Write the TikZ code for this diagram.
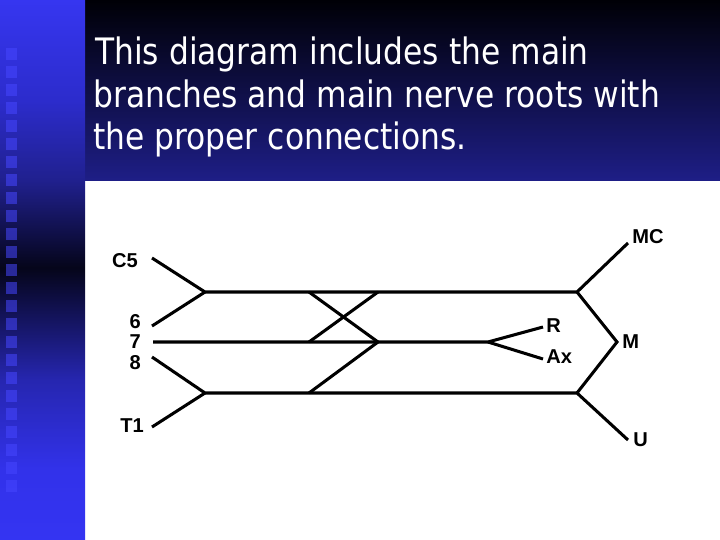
\documentclass[tikz,border=0pt]{standalone}
\usepackage{fontspec}
\usepackage{tikz}
\newfontfamily\titlefont[FakeStretch=0.86]{DejaVu Sans}
\newfontfamily\labelfont{Liberation Sans}
\definecolor{ttltop}{HTML}{000006}
\definecolor{ttlbottom}{HTML}{1E1E86}
\definecolor{barsquare}{HTML}{4646FF}
\pgfdeclareverticalshading{leftbar}{100bp}{color(0bp)=(rgb,255:red,52;green,52;blue,242);
  color(25bp)=(rgb,255:red,52;green,52;blue,242);
  color(31.5bp)=(rgb,255:red,50;green,50;blue,234);
  color(39.8bp)=(rgb,255:red,38;green,38;blue,176);
  color(50.2bp)=(rgb,255:red,5;green,5;blue,26);
  color(58.3bp)=(rgb,255:red,32;green,32;blue,142);
  color(65.7bp)=(rgb,255:red,44;green,44;blue,204);
  color(75bp)=(rgb,255:red,54;green,54;blue,240);
  color(100bp)=(rgb,255:red,54;green,54;blue,240)}
\tikzset{nerve/.style={line width=2.2pt, line join=miter},
  lbl/.style={inner sep=0pt, font=\labelfont\fontsize{14.5}{17}\selectfont\bfseries},
  ttl/.style={inner sep=0pt, anchor=base west, text=white,
    font=\titlefont\fontsize{26.3}{30}\selectfont}}

\begin{document}
\begin{tikzpicture}[x=0.01in,y=-0.01in]
  \useasboundingbox (0,0) rectangle (720,540);
  \fill [white] (0,0) rectangle (720,540);
  % slide background
  \shade [top color=ttltop, bottom color=ttlbottom] (85,0) rectangle (720,180);
  \shade [shading=leftbar] (0,0) rectangle (85,540);
  \foreach \k in {0,...,24}
    \fill [barsquare, opacity=0.55] (6,48+18*\k) rectangle (17,60+18*\k);

  \node [ttl] (title1) at (95,64) {This diagram includes the main};
  \node [ttl] (title2) at (93,107) {branches and main nerve roots with};
  \node [ttl] (title3) at (93,149) {the proper connections.};

  % labels
  \node [lbl, anchor=east] (c5) at (138,261) {C5};
  \node [lbl, anchor=east] (n6) at (141,322) {6};
  \node [lbl, anchor=east] (n7) at (141,341.5) {7};
  \node [lbl, anchor=east] (n8) at (141,362.5) {8};
  \node [lbl, anchor=east] (t1) at (144,426) {T1};
  \node [lbl, anchor=west] (r) at (546,326) {R};
  \node [lbl, anchor=west] (ax) at (546,357) {Ax};
  \node [lbl, anchor=west] (m) at (622,342) {M};
  \node [lbl, anchor=west] (mc) at (632,237) {MC};
  \node [lbl, anchor=west] (u) at (633,440) {U};

  % roots, trunks, cords
  \coordinate (c5e) at (152,258);
  \coordinate (r6e) at (152,326);
  \coordinate (r7e) at (153,342);
  \coordinate (r8e) at (152,357);
  \coordinate (t1e) at (152,427);
  \coordinate (up) at (205,292);
  \coordinate (lo) at (205,393);
  \coordinate (upx) at (309,292);
  \coordinate (upy) at (378,292);
  \coordinate (mdx) at (309,342);
  \coordinate (mdy) at (378,342);
  \coordinate (lox) at (309,393);
  \coordinate (lat) at (577,292);
  \coordinate (med) at (577,393);
  \coordinate (post) at (488,342);
  \coordinate (mce) at (628,243);
  \coordinate (me) at (617,342);
  \coordinate (ue) at (628,440);
  \coordinate (re) at (543,327);
  \coordinate (axe) at (543,359);

  \draw [nerve] (c5e) -- (up) -- (lat) -- (mce);
  \draw [nerve] (r6e) -- (up);
  \draw [nerve] (r7e) -- (post) -- (re);
  \draw [nerve] (post) -- (axe);
  \draw [nerve] (r8e) -- (lo) -- (med) -- (ue);
  \draw [nerve] (t1e) -- (lo);
  \draw [nerve] (upx) -- (mdy);
  \draw [nerve] (mdx) -- (upy);
  \draw [nerve] (lox) -- (mdy);
  \draw [nerve] (lat) -- (me) -- (med);
\end{tikzpicture}
\end{document}
